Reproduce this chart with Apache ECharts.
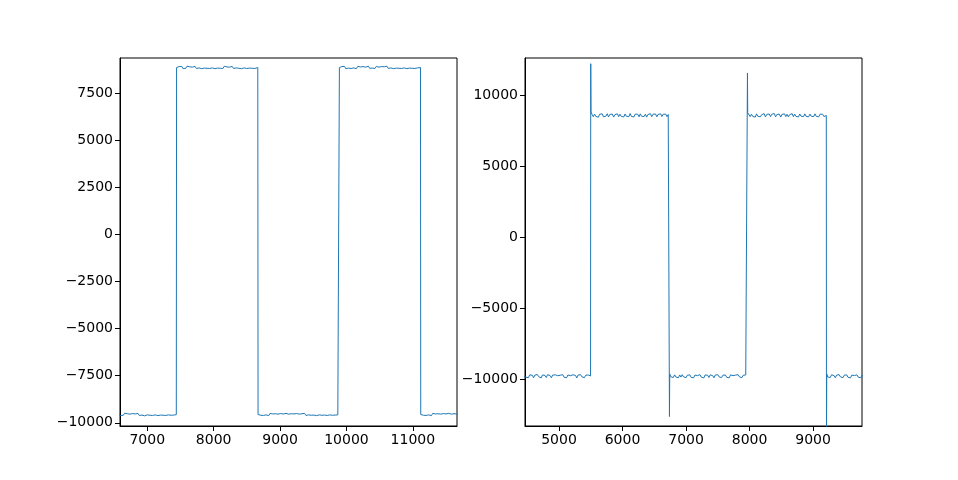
<!DOCTYPE html>
<html>
<head>
<meta charset="utf-8">
<script src="https://cdn.jsdelivr.net/npm/echarts@6/dist/echarts.min.js"></script>
<style>html,body{margin:0;padding:0;background:#fff;}#c{width:958px;height:480px;}</style>
</head>
<body>
<div id="c"></div>
<script>
// Left panel data: [time, value]
var leftData = [
  [6560,-9560],[6580,-9500],[6600,-9610],[6620,-9530],[6640,-9600],[6660,-9490],[6680,-9580],[6700,-9520],[6720,-9620],[6740,-9540],[6760,-9590],[6780,-9510],[6800,-9600],[6820,-9530],[6840,-9580],[6860,-9500],[6880,-9610],[6900,-9540],[6920,-9590],[6940,-9520],[6960,-9630],[6980,-9550],[7000,-9580],[7020,-9500],[7040,-9600],[7060,-9530],[7080,-9610],[7100,-9510],[7120,-9580],[7140,-9540],[7160,-9620],[7180,-9520],[7200,-9590],[7220,-9500],[7240,-9600],[7260,-9540],[7280,-9610],[7300,-9520],[7320,-9580],[7340,-9530],[7360,-9600],[7380,-9510],[7400,-9590],[7420,-9540],[7438,-9570],
  [7442,8850],[7460,8800],[7480,8900],[7500,8820],[7520,8910],[7540,8790],[7560,8880],[7580,8810],[7600,8920],[7620,8830],[7640,8890],[7660,8790],[7680,8870],[7700,8820],[7720,8910],[7740,8800],[7760,8880],[7780,8830],[7800,8900],[7820,8790],[7840,8870],[7860,8820],[7880,8920],[7900,8810],[7920,8890],[7940,8800],[7960,8880],[7980,8830],[8000,8910],[8020,8790],[8040,8870],[8060,8820],[8080,8900],[8100,8810],[8120,8890],[8140,8800],[8160,8920],[8180,8830],[8200,8880],[8220,8790],[8240,8870],[8260,8820],[8280,8910],[8300,8800],[8320,8890],[8340,8830],[8360,8900],[8380,8810],[8400,8880],[8420,8790],[8440,8870],[8460,8830],[8480,8910],[8500,8800],[8520,8890],[8540,8820],[8560,8900],[8580,8810],[8600,8880],[8620,8800],[8640,8890],[8665,8850],
  [8669,-9560],[8690,-9500],[8710,-9600],[8730,-9530],[8750,-9610],[8770,-9510],[8790,-9580],[8810,-9540],[8830,-9620],[8850,-9500],[8870,-9590],[8890,-9530],[8910,-9600],[8930,-9520],[8950,-9580],[8970,-9540],[8990,-9610],[9010,-9510],[9030,-9590],[9050,-9530],[9070,-9620],[9090,-9500],[9110,-9580],[9130,-9540],[9150,-9600],[9170,-9520],[9190,-9590],[9210,-9530],[9230,-9610],[9250,-9510],[9270,-9580],[9290,-9540],[9310,-9600],[9330,-9520],[9350,-9590],[9370,-9500],[9390,-9610],[9410,-9540],[9430,-9580],[9450,-9520],[9470,-9600],[9490,-9530],[9510,-9590],[9530,-9510],[9550,-9620],[9570,-9540],[9590,-9580],[9610,-9500],[9630,-9600],[9650,-9530],[9670,-9590],[9690,-9520],[9710,-9610],[9730,-9540],[9750,-9580],[9770,-9510],[9790,-9600],[9810,-9530],[9830,-9590],[9850,-9520],[9870,-9580],[9890,-9560],
  [9894,8850],[9910,8800],[9930,8900],[9950,8820],[9970,8910],[9990,8790],[10010,8880],[10030,8820],[10050,8920],[10070,8800],[10090,8890],[10110,8830],[10130,8870],[10150,8790],[10170,8910],[10190,8820],[10210,8880],[10230,8800],[10250,8900],[10270,8830],[10290,8870],[10310,8790],[10330,8920],[10350,8810],[10370,8890],[10390,8820],[10410,8880],[10430,8800],[10450,8910],[10470,8830],[10490,8870],[10510,8790],[10530,8900],[10550,8820],[10570,8890],[10590,8810],[10610,8920],[10630,8800],[10650,8870],[10670,8830],[10690,8900],[10710,8790],[10730,8880],[10750,8820],[10770,8910],[10790,8810],[10810,8890],[10830,8800],[10850,8870],[10870,8830],[10890,8910],[10910,8790],[10930,8880],[10950,8820],[10970,8900],[10990,8810],[11010,8890],[11030,8800],[11050,8870],[11070,8830],[11090,8900],[11115,8850],
  [11119,-9560],[11140,-9500],[11160,-9600],[11180,-9530],[11200,-9610],[11220,-9510],[11240,-9580],[11260,-9540],[11280,-9620],[11300,-9500],[11320,-9590],[11340,-9530],[11360,-9600],[11380,-9520],[11400,-9580],[11420,-9540],[11440,-9610],[11460,-9510],[11480,-9590],[11500,-9530],[11520,-9620],[11540,-9500],[11560,-9580],[11580,-9540],[11600,-9600],[11620,-9520],[11640,-9590],[11660,-9530],[11680,-9570]
];
// Right panel data: [time, value]
var rightData = [
  [4440,-9750],[4460,-9650],[4480,-9830],[4500,-9700],[4520,-9860],[4540,-9660],[4560,-9800],[4580,-9690],[4600,-9870],[4620,-9680],[4640,-9820],[4660,-9640],[4680,-9790],[4700,-9720],[4720,-9880],[4740,-9670],[4760,-9810],[4780,-9700],[4800,-9850],[4820,-9650],[4840,-9790],[4860,-9710],[4880,-9870],[4900,-9680],[4920,-9820],[4940,-9660],[4960,-9800],[4980,-9720],[5000,-9860],[5020,-9690],[5040,-9810],[5060,-9650],[5080,-9830],[5100,-9700],[5120,-9870],[5140,-9670],[5160,-9800],[5180,-9720],[5200,-9850],[5220,-9660],[5240,-9790],[5260,-9700],[5280,-9880],[5300,-9680],[5320,-9820],[5340,-9650],[5360,-9800],[5380,-9710],[5400,-9860],[5420,-9690],[5440,-9820],[5460,-9670],[5480,-9810],[5497,-9740],
  [5500,12250],[5504,8850],[5520,8680],[5540,8520],[5560,8700],[5580,8540],[5600,8660],[5620,8480],[5640,8690],[5660,8550],[5680,8720],[5700,8510],[5720,8650],[5740,8560],[5760,8730],[5780,8500],[5800,8680],[5820,8540],[5840,8700],[5860,8490],[5880,8660],[5900,8560],[5920,8720],[5940,8520],[5960,8690],[5980,8540],[6000,8670],[6020,8500],[6040,8710],[6060,8550],[6080,8680],[6100,8520],[6120,8740],[6140,8540],[6160,8660],[6180,8500],[6200,8700],[6220,8560],[6240,8690],[6260,8510],[6280,8720],[6300,8550],[6320,8680],[6340,8530],[6360,8700],[6380,8490],[6400,8670],[6420,8560],[6440,8730],[6460,8520],[6480,8690],[6500,8550],[6520,8710],[6540,8510],[6560,8680],[6580,8540],[6600,8720],[6620,8530],[6640,8690],[6660,8560],[6680,8700],[6700,8520],[6720,8670],[6736,8600],
  [6739,-12600],[6743,-9600],[6760,-9800],[6780,-9680],[6800,-9850],[6820,-9660],[6840,-9810],[6860,-9700],[6880,-9870],[6900,-9670],[6920,-9820],[6940,-9650],[6960,-9800],[6980,-9720],[7000,-9860],[7020,-9690],[7040,-9810],[7060,-9660],[7080,-9840],[7100,-9700],[7120,-9870],[7140,-9680],[7160,-9800],[7180,-9710],[7200,-9850],[7220,-9650],[7240,-9820],[7260,-9700],[7280,-9880],[7300,-9670],[7320,-9810],[7340,-9690],[7360,-9850],[7380,-9660],[7400,-9800],[7420,-9720],[7440,-9870],[7460,-9680],[7480,-9820],[7500,-9650],[7520,-9800],[7540,-9710],[7560,-9860],[7580,-9690],[7600,-9810],[7620,-9670],[7640,-9840],[7660,-9700],[7680,-9870],[7700,-9660],[7720,-9800],[7740,-9720],[7760,-9850],[7780,-9680],[7800,-9820],[7820,-9650],[7840,-9800],[7860,-9710],[7880,-9860],[7900,-9690],[7920,-9810],[7940,-9670],[7964,-9760],
  [7967,11600],[7971,8800],[7990,8690],[8010,8520],[8030,8700],[8050,8540],[8070,8670],[8090,8490],[8110,8720],[8130,8550],[8150,8690],[8170,8510],[8190,8660],[8210,8560],[8230,8730],[8250,8500],[8270,8680],[8290,8540],[8310,8710],[8330,8520],[8350,8690],[8370,8550],[8390,8740],[8410,8510],[8430,8670],[8450,8540],[8470,8700],[8490,8490],[8510,8680],[8530,8560],[8550,8720],[8570,8530],[8590,8690],[8610,8510],[8630,8660],[8650,8550],[8670,8730],[8690,8520],[8710,8700],[8730,8540],[8750,8680],[8770,8500],[8790,8710],[8810,8560],[8830,8690],[8850,8520],[8870,8720],[8890,8540],[8910,8670],[8930,8510],[8950,8700],[8970,8550],[8990,8690],[9010,8530],[9030,8720],[9050,8540],[9070,8680],[9090,8510],[9110,8700],[9130,8560],[9150,8690],[9170,8530],[9190,8670],[9208,8600],
  [9211,-14500],[9215,-9600],[9230,-9810],[9250,-9680],[9270,-9850],[9290,-9660],[9310,-9800],[9330,-9710],[9350,-9870],[9370,-9680],[9390,-9820],[9410,-9650],[9430,-9800],[9450,-9720],[9470,-9860],[9490,-9690],[9510,-9810],[9530,-9660],[9550,-9840],[9570,-9700],[9590,-9870],[9610,-9680],[9630,-9800],[9650,-9710],[9670,-9850],[9690,-9660],[9710,-9820],[9730,-9700],[9750,-9870],[9770,-9680],[9790,-9800]
];
var leftXTicks = [7000, 8000, 9000, 10000, 11000];
var leftYTicks = [-10000, -7500, -5000, -2500, 0, 2500, 5000, 7500];
var rightXTicks = [5000, 6000, 7000, 8000, 9000];
var rightYTicks = [-10000, -5000, 0, 5000, 10000];

var fmt = function (v) { return String(v).replace('-', '\u2212'); };
var font = { fontFamily: 'DejaVu Sans', fontSize: 14, color: '#000' };

function makeAxis(idx, min, max, ticks) {
  return {
    type: 'value', gridIndex: idx, min: min, max: max,
    axisLine: { show: true, onZero: false, lineStyle: { color: '#000', width: 1 } },
    axisTick: { show: true, length: 5, customValues: ticks, lineStyle: { color: '#000' } },
    axisLabel: Object.assign({ customValues: ticks, margin: 7, formatter: fmt }, font),
    splitLine: { show: false }
  };
}

var chart = echarts.init(document.getElementById('c'), null, { renderer: 'canvas' });
chart.setOption({
  animation: false,
  backgroundColor: '#fff',
  grid: [
    { left: 120, top: 58, width: 337, height: 368, show: true, borderColor: '#000', borderWidth: 1, backgroundColor: 'transparent' },
    { left: 525, top: 58, width: 337, height: 368, show: true, borderColor: '#000', borderWidth: 1, backgroundColor: 'transparent' }
  ],
  xAxis: [makeAxis(0, 6590, 11665, leftXTicks), makeAxis(1, 4465, 9770, rightXTicks)],
  yAxis: [makeAxis(0, -10170, 9356, leftYTicks), makeAxis(1, -13264, 12652, rightYTicks)],
  series: [
    { type: 'line', xAxisIndex: 0, yAxisIndex: 0, data: leftData, showSymbol: false, symbol: 'none', clip: true,
      lineStyle: { color: '#1f77b4', width: 1 } },
    { type: 'line', xAxisIndex: 1, yAxisIndex: 1, data: rightData, showSymbol: false, symbol: 'none', clip: true,
      lineStyle: { color: '#1f77b4', width: 1 } }
  ]
});
</script>
</body>
</html>
